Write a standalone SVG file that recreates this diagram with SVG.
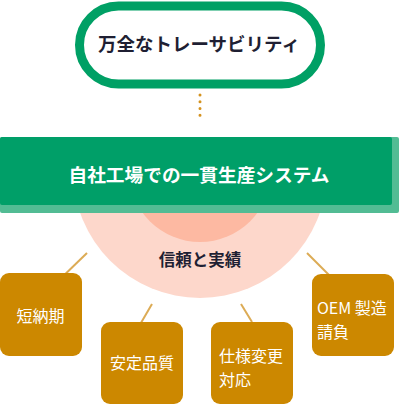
<svg xmlns="http://www.w3.org/2000/svg" width="400" height="404" viewBox="0 0 400 404">
<style>
text{font-family:"Noto Sans CJK JP","Noto Sans",sans-serif}
.dark{fill:#1f1f33;font-weight:bold}
.box{fill:#cc8800}
.bt{fill:#ffffff;font-size:16px}
.con{stroke:#dcab55;stroke-width:2;fill:none}
</style>
<defs>
<clipPath id="below"><rect x="0" y="205" width="400" height="199"/></clipPath>
</defs>
<rect width="400" height="404" fill="#ffffff"/>
<g id="circles" clip-path="url(#below)">
<circle cx="200" cy="171" r="127" fill="#fdd7cb"/>
<circle cx="200" cy="171" r="71" fill="#fdb9a2"/>
</g>
<g id="connectors">
<line x1="200" y1="95" x2="200" y2="122" stroke="#d4921f" stroke-width="3" stroke-linecap="round" stroke-dasharray="0 6.75"/>
<line class="con" x1="87" y1="253" x2="55" y2="284"/>
<line class="con" x1="152" y1="304" x2="138" y2="328"/>
<line class="con" x1="241" y1="304" x2="252" y2="322"/>
<line class="con" x1="307" y1="253" x2="338" y2="284"/>
</g>
<g id="traceability">
<rect x="79.5" y="6" width="241" height="78" rx="39" fill="#ffffff" stroke="#00a065" stroke-width="9"/>
<text class="dark" x="199" y="51" font-size="18.5" text-anchor="middle">万全なトレーサビリティ</text>
</g>
<g id="system">
<rect x="0" y="137" width="399" height="76" rx="2" fill="#52bc94"/>
<rect x="0" y="137" width="392" height="68" rx="2" fill="#009f68"/>
<text x="199" y="182" font-size="18.7" font-weight="bold" fill="#ffffff" text-anchor="middle">自社工場での一貫生産システム</text>
</g>
<g id="trust">
<text class="dark" x="200" y="266" font-size="16.5" text-anchor="middle">信頼と実績</text>
</g>
<g id="delivery">
<rect class="box" x="0" y="273" width="82" height="83" rx="9"/>
<text class="bt" x="40.5" y="322" text-anchor="middle">短納期</text>
</g>
<g id="quality">
<rect class="box" x="101" y="322" width="82" height="82" rx="9"/>
<text class="bt" x="142" y="369" text-anchor="middle">安定品質</text>
</g>
<g id="spec">
<rect class="box" x="211" y="322" width="82" height="82" rx="9"/>
<text class="bt" x="219" y="362">仕様変更</text>
<text class="bt" x="219" y="386">対応</text>
</g>
<g id="oem">
<rect class="box" x="312" y="274" width="82" height="82" rx="9"/>
<text class="bt" x="317" y="314">OEM 製造</text>
<text class="bt" x="317" y="338">請負</text>
</g>
</svg>
